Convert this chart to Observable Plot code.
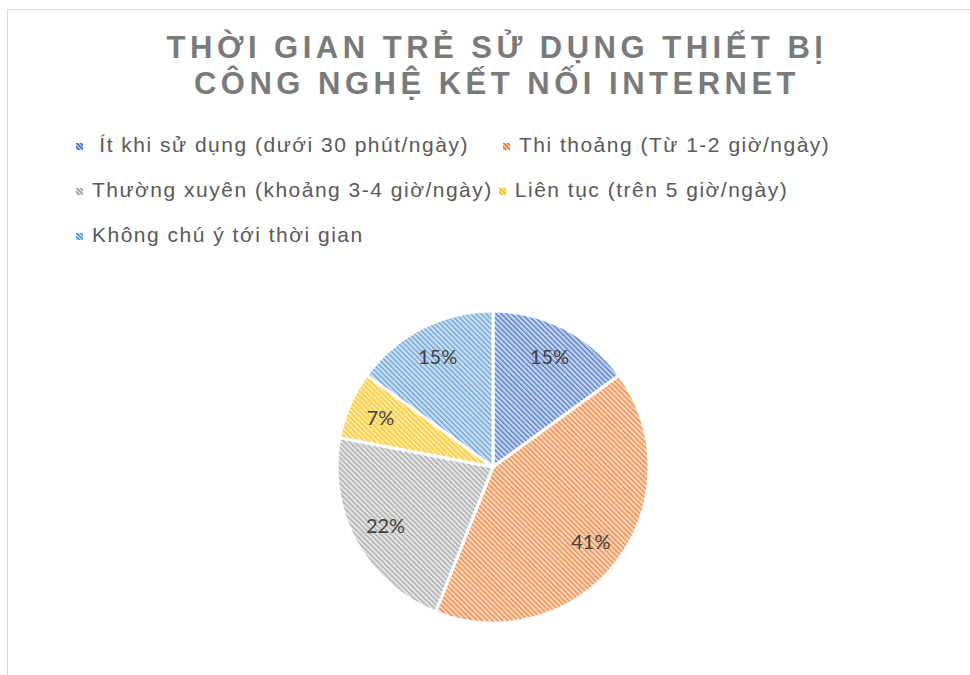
<!DOCTYPE html>
<html>
<head>
<meta charset="utf-8">
<script src="https://cdn.jsdelivr.net/npm/d3@7"></script>
<script src="https://cdn.jsdelivr.net/npm/@observablehq/plot@0.6"></script>
<style>
  html, body { margin: 0; padding: 0; background: #fff; width: 970px; height: 675px; overflow: hidden; }
  #frame { position: absolute; left: 7px; top: 9px; width: 1000px; height: 700px; border: 1px solid #d9d9d9; box-sizing: border-box; }
  #title { position: absolute; left: 0; width: 994px; top: 30px; text-align: center; font-family: "Liberation Sans", Arial, sans-serif; font-weight: bold; font-size: 31px; line-height: 36px; letter-spacing: 4.5px; color: #7a7a7a; }
  #legend { position: absolute; left: 76px; top: 132px; width: 800px; display: flex; flex-wrap: wrap; row-gap: 20px; font-family: "Liberation Sans", Arial, sans-serif; font-size: 21px; letter-spacing: 1.5px; line-height: 25px; color: #595959; }
  .item { display: flex; align-items: center; margin-right: 6px; white-space: pre; }
  .item.first { margin-right: 34px; }
  .sw { width: 7px; height: 7px; margin-right: 9px; margin-top: 3px; }
  #chart { position: absolute; left: 0; top: 267px; }
</style>
</head>
<body>
<div id="frame"></div>
<div id="title">THỜI GIAN TRẺ SỬ DỤNG THIẾT BỊ<br>CÔNG NGHỆ KẾT NỐI INTERNET</div>
<div id="legend"></div>
<div id="chart"></div>
<script>
const categories = [
  " Ít khi sử dụng (dưới 30 phút/ngày)",
  "Thi thoảng (Từ 1-2 giờ/ngày)",
  "Thường xuyên (khoảng 3-4 giờ/ngày)",
  "Liên tục (trên 5 giờ/ngày)",
  "Không chú ý tới thời gian"
];
const values = [15, 41, 22, 7, 15];
const colors = ["#4472C4", "#ED7D31", "#A5A5A5", "#FFC000", "#5B9BD5"];

const data = categories.map((c, i) => ({category: c, value: values[i], color: colors[i], i}));
const arcs = d3.pie().sort(null).value(d => d.value)(data);
const mid = a => (a.startAngle + a.endAngle) / 2;

// legend
const legend = d3.select("#legend");
data.forEach((d, k) => {
  const it = legend.append("div").attr("class", k === 0 ? "item first" : "item");
  it.append("div").attr("class", "sw")
    .style("background", `repeating-linear-gradient(45deg, ${d3.interpolateRgb("#ffffff", d.color)(0.45)} 0 1.5px, ${d.color} 1.5px 3px)`);
  it.append("span").text(d.category);
});

const pieMark = Plot.dot(arcs, {
  x: () => 0,
  y: () => 0,
  render(index, scales, values, dimensions, context) {
    const cx = scales.x(0), cy = scales.y(0);
    const r = scales.x(1) - scales.x(0);
    const g = d3.create("svg:g");
    const defs = g.append("defs");
    const s = 3.6;
    arcs.forEach((a, k) => {
      const c = a.data.color;
      const bg = d3.interpolateRgb("#ffffff", c)(0.3);
      const p = defs.append("pattern")
        .attr("id", "hatch" + k)
        .attr("patternUnits", "userSpaceOnUse")
        .attr("width", s).attr("height", s)
        .attr("patternTransform", "rotate(45)");
      p.append("rect").attr("width", s).attr("height", s).attr("fill", bg);
      p.append("line").attr("x1", 0).attr("y1", 1).attr("x2", s).attr("y2", 1)
        .attr("stroke", c).attr("stroke-width", 1.6).attr("stroke-dasharray", "1.4 0.4");
    });
    const arc = d3.arc().innerRadius(0).outerRadius(r);
    g.append("g").attr("transform", `translate(${cx},${cy})`)
      .selectAll("path").data(index).join("path")
      .attr("d", i => arc(arcs[i]))
      .attr("fill", i => `url(#hatch${i})`)
      .attr("stroke", "#ffffff")
      .attr("stroke-width", 3)
      .attr("stroke-linejoin", "round");
    return g.node();
  }
});

const labels = Plot.text(arcs, {
  x: a => 0.79 * Math.sin(mid(a)),
  y: a => 0.79 * Math.cos(mid(a)),
  text: a => a.data.value + "%",
  fill: "#404040",
  fontSize: 20,
  fontFamily: "Lato, 'Open Sans', sans-serif"
});

const chart = Plot.plot({
  width: 970,
  height: 400,
  marginLeft: 337,
  marginRight: 321,
  marginTop: 44,
  marginBottom: 44,
  x: {domain: [-1, 1], axis: null},
  y: {domain: [-1, 1], axis: null},
  style: {background: "transparent"},
  marks: [pieMark, labels]
});
document.getElementById("chart").append(chart);
</script>
</body>
</html>
